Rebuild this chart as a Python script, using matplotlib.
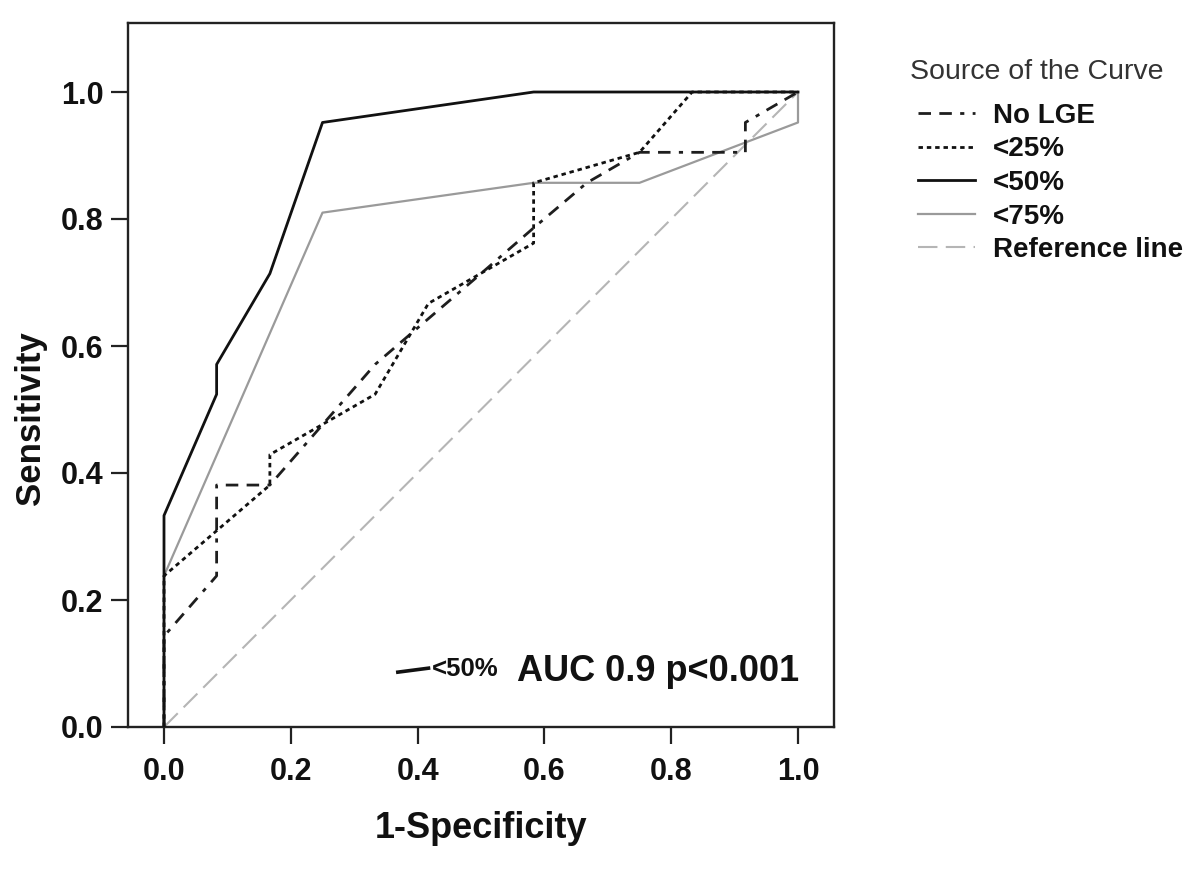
import matplotlib
matplotlib.use("Agg")
import matplotlib.pyplot as plt

plt.rcParams['font.family'] = ['Liberation Sans', 'DejaVu Sans']
plt.rcParams['lines.scale_dashes'] = False

# ---- data ----
x_nolge = [0, 0, 0.083, 0.083, 0.167, 0.333, 0.417, 0.5, 0.583, 0.667, 0.75, 0.917, 0.917, 1.0]
y_nolge = [0, 0.143, 0.238, 0.381, 0.381, 0.571, 0.643, 0.714, 0.786, 0.857, 0.905, 0.905, 0.952, 1.0]

x_lt25 = [0, 0, 0.167, 0.167, 0.333, 0.417, 0.583, 0.583, 0.75, 0.833, 1.0]
y_lt25 = [0, 0.238, 0.381, 0.429, 0.524, 0.667, 0.762, 0.857, 0.905, 1.0, 1.0]

x_lt50 = [0, 0, 0.083, 0.083, 0.167, 0.25, 0.583, 1.0]
y_lt50 = [0, 0.333, 0.524, 0.571, 0.714, 0.952, 1.0, 1.0]

x_lt75 = [0, 0, 0.25, 0.583, 0.75, 1.0, 1.0]
y_lt75 = [0, 0.238, 0.81, 0.857, 0.857, 0.952, 1.0]

x_ref = [0, 1]
y_ref = [0, 1]

series_labels = ["No LGE", "<25%", "<50%", "<75%", "Reference line"]
ticks = [0.0, 0.2, 0.4, 0.6, 0.8, 1.0]
tick_labels = ["0.0", "0.2", "0.4", "0.6", "0.8", "1.0"]
x_title = "1-Specificity"
y_title = "Sensitivity"
legend_title = "Source of the Curve"
annot_small = "<50%"
annot_big = "AUC 0.9 p<0.001"

W, H = 1200, 869
fig = plt.figure(figsize=(12, 8.69), dpi=100)
ax = fig.add_axes([128/W, 1 - 727/H, (834-128)/W, (727-23)/H])

l_ref, = ax.plot(x_ref, y_ref, color='#b5b5b5', lw=1.5, dashes=(14, 6), zorder=2)
l_75, = ax.plot(x_lt75, y_lt75, color='#9a9a9a', lw=1.6, zorder=3)
l_no, = ax.plot(x_nolge, y_nolge, color='#1e1e1e', lw=2.0, dashes=(9, 6, 9, 6, 3, 6), zorder=4)
l_25, = ax.plot(x_lt25, y_lt25, color='#111111', lw=2.0, dashes=(3.2, 2.8), zorder=5)
l_50, = ax.plot(x_lt50, y_lt50, color='#111111', lw=2.0, zorder=6)

ax.set_xlim(-(164-128)/634, 1 + (834-798)/634)
ax.set_ylim(0, 1 + (92-23)/635)

ax.set_xticks(ticks)
ax.set_xticklabels(tick_labels)
ax.set_yticks(ticks)
ax.set_yticklabels(tick_labels)
ax.tick_params(axis='both', direction='out', length=12.5, width=1.6, color='#222222',
               labelsize=22)
ax.tick_params(axis='y', pad=5)
ax.tick_params(axis='x', pad=9)
for lab in ax.get_xticklabels() + ax.get_yticklabels():
    lab.set_fontweight('bold')
    lab.set_color('#111111')

for sp in ax.spines.values():
    sp.set_linewidth(1.7)
    sp.set_color('#222222')

ax.set_xlabel(x_title, fontsize=26, fontweight='bold', color='#111111')
ax.xaxis.set_label_coords(0.5, -(811-727)/704)
ax.set_ylabel(y_title, fontsize=25, fontweight='bold', color='#111111')
ax.yaxis.set_label_coords((47-128)/706, (727-418)/704)

# in-plot annotation
ax.plot([0.366, 0.42], [0.086, 0.093], color='#111111', lw=2.6, solid_capstyle='butt')
ax.text(0.422, 0.091, annot_small, fontsize=18.5, fontweight='bold', va='center', ha='left', color='#111111')
ax.text(0.556, 0.088, annot_big, fontsize=26, fontweight='bold', va='center', ha='left', color='#111111')

# legend
fig.text(910/W, 1 - 72/H, legend_title, fontsize=20.5, color='#333333', ha='left', va='center')
leg = fig.legend([l_no, l_25, l_50, l_75, l_ref], series_labels,
                 loc='upper left', bbox_to_anchor=(918/W, 1 - 103/H),
                 frameon=False,
                 prop={'size': 20, 'weight': 'bold'},
                 handlelength=2.05, handletextpad=0.65, labelspacing=0.27,
                 borderpad=0, borderaxespad=0)
for t in leg.get_texts():
    t.set_color('#111111')

fig.savefig("out.png", dpi=100)
